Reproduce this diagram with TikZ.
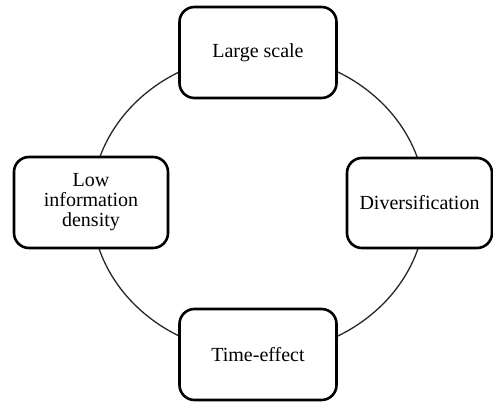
\documentclass[tikz,border=0pt]{standalone}
\usepackage{fontspec}
\setmainfont{Liberation Serif}
\begin{document}
\begin{tikzpicture}[x=1pt,y=-1pt,
  itembox/.style={draw=black, line width=2.6pt, rounded corners=15pt, fill=white,
    align=center, inner sep=0pt, font=\fontsize{20}{20}\selectfont, text=black},
  ring/.style={draw=black!85, line width=1.3pt}]
  \useasboundingbox (0,0) rectangle (493,403);
  % surrounding ring
  \draw[ring] (258.5,204) ellipse [x radius=167, y radius=150];
  % the four boxes
  \node[itembox, minimum width=157pt, minimum height=91pt] (top) at (258,52.5) {Large scale};
  \node[itembox, minimum width=154pt, minimum height=91pt] (left) at (91,202.5) {Low\\information\\density};
  \node[itembox, minimum width=145pt, minimum height=90pt] (right) at (419.5,203) {Diversification};
  \node[itembox, minimum width=157pt, minimum height=91pt] (bottom) at (258,354.5) {Time-effect};
\end{tikzpicture}
\end{document}
